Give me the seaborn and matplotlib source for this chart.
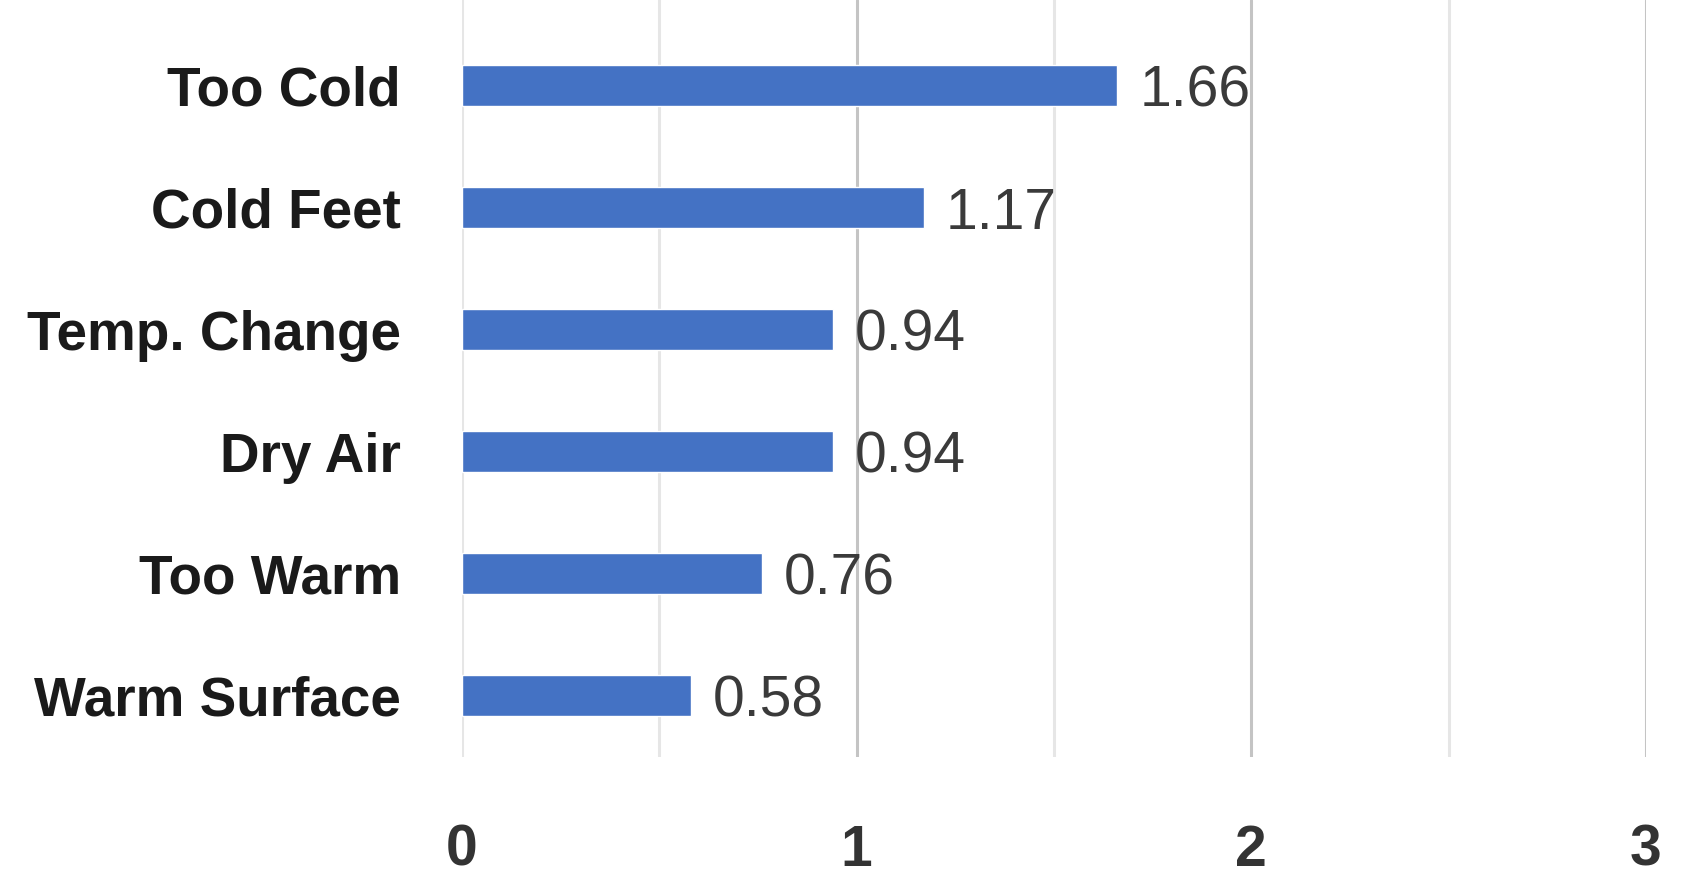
import numpy as np
import seaborn as sns
import matplotlib.pyplot as plt

# Daten
categories = ["Too Cold", "Cold Feet", "Temp. Change", "Dry Air", "Too Warm", "Warm Surface"]
values = [1.66, 1.17, 0.94, 0.94, 0.76, 0.58]
value_labels = ["1.66", "1.17", "0.94", "0.94", "0.76", "0.58"]
x_ticks = [0, 1, 2, 3]
x_minor = [0.5, 1.5, 2.5]

sns.set_style("white")
plt.rcParams['font.family'] = ['Liberation Sans', 'DejaVu Sans']

fig = plt.figure(figsize=(16.84, 8.88), dpi=100)
ax = fig.add_axes([0.2743, 0.1475, 0.7031, 0.8525])

sns.barplot(x=values, y=categories, orient="h", color="#4472C4",
            width=0.336, saturation=1, ax=ax)

# Beschriftung der Balken
texts = ax.bar_label(ax.containers[0], labels=value_labels, padding=16,
                     fontsize=41, color="#3a3a3a")
for t in texts:
    t.set_verticalalignment("center_baseline")

ax.set_xlim(0, 3)
ax.set_ylim(5.5, -0.7)
ax.set_xticks(x_ticks)
ax.set_xticks(x_minor, minor=True)
ax.set_xticklabels([str(t) for t in x_ticks], fontsize=41, fontweight="bold", color="#333333")
ax.set_yticks(range(len(categories)))
ax.set_yticklabels(categories, fontsize=39.5, fontweight="bold", color="#1a1a1a")
ax.tick_params(axis="x", which="both", length=0, pad=48)
ax.tick_params(axis="y", length=0, pad=44)

ax.grid(axis="x", which="major", color="#c4c4c4", linewidth=2.2)
ax.grid(axis="x", which="minor", color="#e6e6e6", linewidth=2.2)
ax.get_xgridlines()[0].set_color("#e6e6e6")
ax.set_axisbelow(True)
for s in ax.spines.values():
    s.set_visible(False)
ax.set_xlabel("")
ax.set_ylabel("")

plt.savefig("out.png", dpi=100)
